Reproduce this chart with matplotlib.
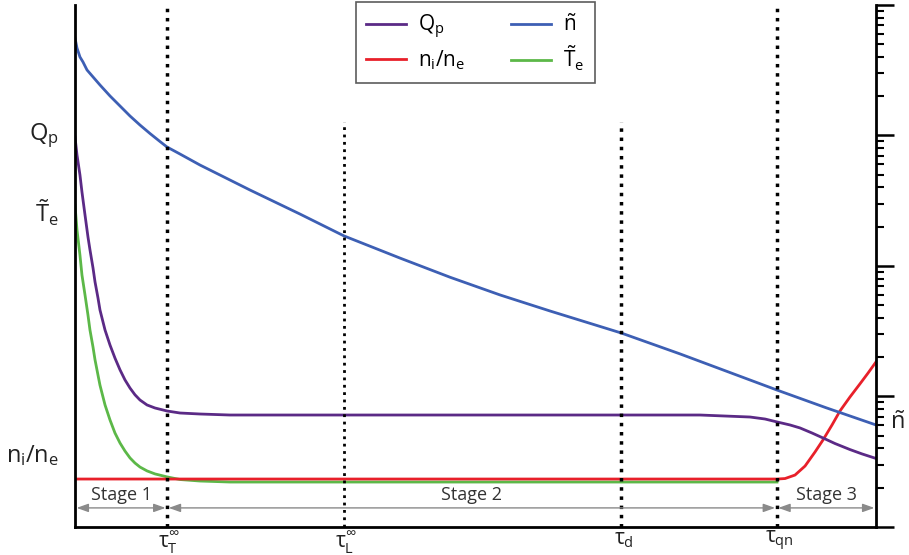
import numpy as np
import matplotlib
matplotlib.use('Agg')
import matplotlib.pyplot as plt

plt.rcParams['font.family'] = ['Open Sans', 'DejaVu Sans']
plt.rcParams['mathtext.fontset'] = 'custom'
plt.rcParams['mathtext.rm'] = 'Open Sans'
plt.rcParams['mathtext.it'] = 'Open Sans'
plt.rcParams['mathtext.bf'] = 'Open Sans'

# time axis (arbitrary units, 0..100)
tau_T = 11.5
tau_L = 33.6
tau_d = 68.2
tau_qn = 87.6
t_end = 100.0

# density n~
t_n = [0, 0.25, 0.62, 1.0, 1.5, 2.25, 3.12, 4.37, 5.62, 6.87, 8.11, 9.36, 10.61,
       11.49, 13.11, 15.6, 21.85, 28.09, 33.58, 40.57, 46.82, 53.06, 59.3, 68.16,
       75.53, 87.64, 93.76, 100]
n_val = [5590, 4680, 3996, 3656, 3177, 2810, 2438, 2009, 1683, 1410, 1203, 1036, 899,
         816, 721, 594, 382, 250, 170, 115, 82, 60, 45.2, 30.7, 21.2, 11.2, 8.2, 6.05]

# Q_p
t_q = [0, 0.25, 0.62, 0.87, 1.25, 1.62, 1.87, 2.25, 2.5, 2.87, 3.12, 3.75, 4.37,
       4.99, 5.62, 6.24, 6.87, 7.49, 8.11, 8.99, 9.99, 11.49, 13.11, 15.6, 19.35,
       40.57, 65.54, 78.03, 84.27, 86.14, 87.64, 89.26, 90.51, 92.01, 93.38, 94.88,
       96.75, 98.25, 100]
q_val = [974, 709, 498, 369, 246, 167, 133, 96.5, 75.5, 56.9, 46.0, 32.3, 24.8,
         19.7, 16.0, 13.4, 11.6, 10.3, 9.40, 8.61, 8.16, 7.74, 7.47, 7.34, 7.21,
         7.21, 7.21, 7.21, 6.96, 6.72, 6.38, 6.05, 5.74, 5.25, 4.81, 4.36,
         3.92, 3.63, 3.35]

# T~_e
t_te = [0, 0.25, 0.62, 0.87, 1.25, 1.62, 1.87, 2.25, 2.5, 2.87, 3.12, 3.75, 4.37,
        4.99, 5.62, 6.24, 6.87, 7.49, 8.11, 8.99, 9.99, 11.49, 13.11, 15.6, 19.35,
        87.64]
te_val = [293, 189, 121, 85.3, 60.0, 42.1, 32.3, 23.9, 19.1, 14.6, 12.2, 8.61, 6.61,
          5.25, 4.40, 3.82, 3.38, 3.09, 2.88, 2.69, 2.55, 2.42, 2.31, 2.25, 2.21,
          2.21]

# n_i/n_e
t_r = [0, 87.64, 88.64, 89.89, 91.14, 92.38, 93.38, 94.51, 95.5, 96.75, 98.0, 99.0, 100]
r_val = [2.33, 2.33, 2.35, 2.50, 2.93, 3.75, 4.64, 6.05, 7.74, 9.91, 12.5, 15.1, 18.4]

c_q = '#5b2a86'
c_n = '#3d5fb4'
c_r = '#e8202a'
c_te = '#5cb848'

fig = plt.figure(figsize=(9.09, 5.55), dpi=100)
ax = fig.add_axes([0.0825, 0.0505, 0.8812, 0.9405])

ax.plot(t_te, te_val, color=c_te, lw=2, label=r'$\tilde{T}_e$')
ax.plot(t_r, r_val, color=c_r, lw=2, label=r'$n_i/n_e$')
ax.plot(t_q, q_val, color=c_q, lw=2, label=r'$Q_p$')
ax.plot(t_n, n_val, color=c_n, lw=2, label=r'$\tilde{n}$')

ax.set_yscale('log')
ax.set_ylim(1, 1e4)
ax.set_xlim(0, t_end)

# vertical markers
ax.axvline(tau_T, color='black', ls=':', lw=2.5)
ax.axvline(tau_qn, color='black', ls=':', lw=2.5)
ax.axvline(tau_L, ymax=0.776, color='black', ls=':', lw=2)
ax.axvline(tau_d, ymax=0.776, color='black', ls=':', lw=2.5)

# stages
y_arr = 1.40
y_stg = 1.75
gray = '#8a8a8a'
for a, b in [(0, tau_T), (tau_T, tau_qn), (tau_qn, t_end)]:
    ax.annotate('', xy=(a + 0.2, y_arr), xytext=(b - 0.2, y_arr),
                arrowprops=dict(arrowstyle='<|-|>,head_length=0.7,head_width=0.25',
                                color=gray, lw=1, shrinkA=0, shrinkB=0))
ax.text((0 + tau_T) / 2, y_stg, 'Stage 1', ha='center', va='center', fontsize=13, color='#333333')
ax.text((tau_T + tau_qn) / 2, y_stg, 'Stage 2', ha='center', va='center', fontsize=13, color='#333333')
ax.text((tau_qn + t_end) / 2, y_stg, 'Stage 3', ha='center', va='center', fontsize=13, color='#333333')

# spines / ticks
ax.spines['top'].set_visible(False)
for s in ['left', 'bottom', 'right']:
    ax.spines[s].set_linewidth(2)
ax.set_xticks([])
ax.yaxis.tick_right()
ax.tick_params(axis='y', which='major', length=13, width=1.8, labelright=False, direction='out')
ax.tick_params(axis='y', which='minor', length=6, width=1.5, labelright=False, direction='out')

# left labels
lbl_col = '#222222'
ax.text(-0.02, 1000, r'$Q_p$', transform=ax.get_yaxis_transform(), ha='right', va='center',
        fontsize=17, color=lbl_col)
ax.text(-0.02, 255, r'$\tilde{T}_e$', transform=ax.get_yaxis_transform(), ha='right', va='center',
        fontsize=17, color=lbl_col)
ax.text(-0.02, 3.5, r'$n_i/n_e$', transform=ax.get_yaxis_transform(), ha='right', va='center',
        fontsize=17, color=lbl_col)
ax.text(1.018, 6.3, r'$\tilde{n}$', transform=ax.get_yaxis_transform(), ha='left', va='center',
        fontsize=17, color=lbl_col)

# bottom labels
for x, s in [(tau_T, r'$\tau_T^{\infty}$'), (tau_L, r'$\tau_L^{\infty}$'),
             (tau_d, r'$\tau_d$'), (tau_qn, r'$\tau_{qn}$')]:
    ax.text(x + 0.3, -0.004, s, transform=ax.get_xaxis_transform(), ha='center', va='top',
            fontsize=15, color=lbl_col)

h, l = ax.get_legend_handles_labels()
order = [2, 1, 3, 0]
leg = ax.legend([h[i] for i in order], [l[i] for i in order], ncol=2,
                loc='upper center', bbox_to_anchor=(0.5, 1.005), fontsize=15,
                frameon=True, fancybox=False, edgecolor='#333333', handlelength=1.9,
                handletextpad=0.6, columnspacing=2.2, borderpad=0.5, labelspacing=0.35,
                borderaxespad=0)
leg.get_frame().set_linewidth(1.2)

plt.savefig('out.png', dpi=100)
